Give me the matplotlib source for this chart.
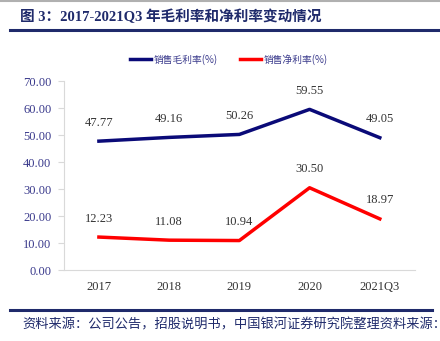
import matplotlib.pyplot as plt
import matplotlib.lines as mlines

plt.rcParams['font.family'] = ['Liberation Serif', 'Noto Sans CJK SC', 'DejaVu Sans']

years = ['2017', '2018', '2019', '2020', '2021Q3']
gross = [47.77, 49.16, 50.26, 59.55, 49.05]
net = [12.23, 11.08, 10.94, 30.50, 18.97]

navy = '#0a0a78'
txt = '#3a3a8c'

fig = plt.figure(figsize=(4.4, 3.41), dpi=100)
ax = fig.add_axes([0.145, 0.208, 0.798, 0.554])

x = range(len(years))
ax.plot(x, gross, color=navy, lw=2.5, label='销售毛利率(%)')
ax.plot(x, net, color='#ff0000', lw=2.5, label='销售净利率(%)')

for i in x:
    ax.annotate('%.2f' % gross[i], (i, gross[i]), xytext=(0, 9), textcoords='offset points',
                ha='center', va='bottom', fontsize=9, color='#333333')
    ax.annotate('%.2f' % net[i], (i, net[i]), xytext=(0, 9), textcoords='offset points',
                ha='center', va='bottom', fontsize=9, color='#333333')

ax.set_xlim(-0.5, len(years) - 0.5)
ax.set_ylim(0, 70)
ax.set_yticks(range(0, 71, 10))
ax.set_yticklabels(['%.2f' % v for v in range(0, 71, 10)])
ax.set_xticks(list(x))
ax.set_xticklabels(years)
ax.tick_params(axis='y', colors='#d9d9d9', labelcolor=txt, labelsize=9, length=4, pad=5)
ax.tick_params(axis='x', length=0, labelcolor='#333333', labelsize=9, pad=8)
for s in ['top', 'right']:
    ax.spines[s].set_visible(False)
for s in ['left', 'bottom']:
    ax.spines[s].set_color('#d9d9d9')

ax.legend(loc='lower center', bbox_to_anchor=(0.47, 1.04), ncol=2, frameon=False,
          labelcolor=txt, handlelength=2.2, handletextpad=0.3, columnspacing=2.2,
          prop={'family': ['Noto Sans CJK SC'], 'size': 7})

fig.text(0.045, 0.95, '图 3：2017-2021Q3 年毛利率和净利率变动情况', fontsize=10.5,
         fontweight='bold', color='#1f2a6b', va='center')
fig.add_artist(mlines.Line2D([0.023, 1.0], [0.912, 0.912], color='#1f2a6b', lw=2.2))
fig.add_artist(mlines.Line2D([0.0, 1.0], [0.998, 0.998], color='#b0b0b0', lw=1.5))
fig.add_artist(mlines.Line2D([0.023, 0.982], [0.092, 0.092], color='#1f2a6b', lw=2.2))
fig.text(0.05, 0.047, '资料来源：公司公告，招股说明书，中国银河证券研究院整理资料来源：公司公告',
         fontsize=9.5, style='italic', color='#1f2a6b', va='center')

fig.savefig('out.png', dpi=100)
